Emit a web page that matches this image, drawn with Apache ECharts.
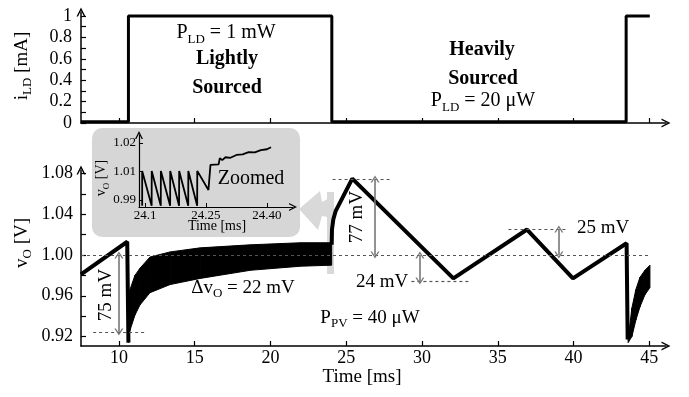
<!DOCTYPE html>
<html>
<head>
<meta charset="utf-8">
<script src="https://cdn.jsdelivr.net/npm/echarts@6/dist/echarts.min.js"></script>
<style>
html, body { margin: 0; padding: 0; background: #fff; }
#chart { width: 689px; height: 397px; }
</style>
</head>
<body>
<div id="chart"></div>
<script>
const FONT = 'Liberation Serif';

// top panel: load current i_LD [mA]
const iTime = [7.5, 10.63, 10.63, 24.05, 24.05, 43.47, 43.47, 45.03];
const iLoad = [0.012, 0.012, 1.0, 1.0, 0.012, 0.012, 1.0, 1.0];
const iTickVals = [0, 0.1, 0.2, 0.3, 0.4, 0.5, 0.6, 0.7, 0.8, 0.9, 1.0];
const iLabelVals = [0, 0.2, 0.4, 0.6, 0.8, 1.0];
const iLabels = ['0', '0.2', '0.4', '0.6', '0.8', '1'];

// shared time axis [ms]
const timeTicks = [10, 15, 20, 25, 30, 35, 40, 45];

// bottom panel: output voltage v_O [V]
const vTimeA = [7.5, 10.55, 10.63];
const vOutA = [0.981, 1.013, 0.914];
const vTimeB = [24.04, 24.06, 24.15, 24.3, 25.4, 32.07, 36.93, 39.96, 43.5, 43.57];
const vOutB = [1.01, 1.025, 1.035, 1.043, 1.075, 0.977, 1.025, 0.977, 1.0115, 0.917];

// ripple envelope (low / high edge)
const band1T = [10.63, 10.73, 11.06, 11.39, 12.05, 13.38, 15.36, 18.68, 21.99, 24.04];
const band1Lo = [0.914, 0.926, 0.941, 0.951, 0.963, 0.971, 0.977, 0.985, 0.989, 0.990];
const band1Hi = [0.916, 0.966, 0.980, 0.987, 0.998, 1.003, 1.007, 1.010, 1.012, 1.012];
const band2T = [43.6, 43.85, 44.11, 44.38, 44.71, 45.04];
const band2Lo = [0.914, 0.920, 0.936, 0.949, 0.961, 0.968];
const band2Hi = [0.917, 0.948, 0.966, 0.978, 0.985, 0.990];

const vTickVals = [0.92, 0.94, 0.96, 0.98, 1.00, 1.02, 1.04, 1.06, 1.08];
const vLabelVals = [0.92, 0.96, 1.00, 1.04, 1.08];
const vLabels = ['0.92', '0.96', '1.00', '1.04', '1.08'];

// dashed reference levels: [t start, t end, v]
const refLevels = [
    [7.5, 45.05, 1.0],
    [8.3, 11.7, 0.9245],
    [24.1, 27.9, 1.0746],
    [35.7, 39.6, 1.0255],
    [29.3, 33.2, 0.9745],
];
// measured swings: [t, v from, v to]
const swings = [
    [10.0, 1.0, 0.9245],
    [26.9, 1.0746, 1.0],
    [39.03, 1.0255, 1.0],
    [29.86, 1.0, 0.9745],
];

// zoomed inset around 24.25 ms
const insetT = [24.093, 24.093, 24.1163, 24.1165, 24.1388, 24.139, 24.1618, 24.162, 24.1838, 24.184,
    24.2063, 24.2065, 24.2283, 24.2285, 24.256, 24.259, 24.261, 24.281, 24.284, 24.29, 24.298,
    24.31, 24.325, 24.34, 24.355, 24.37, 24.385, 24.40, 24.41];
const insetV = [0.998, 1.0102, 0.998, 1.0102, 0.998, 1.0102, 0.998, 1.0102, 0.998, 1.0102,
    0.998, 1.0102, 0.998, 1.0102, 1.0035, 1.0035, 1.0123, 1.0125, 1.0147, 1.0140, 1.0150,
    1.0148, 1.0158, 1.0160, 1.0168, 1.0167, 1.0175, 1.0178, 1.0185];
const insetXVals = [24.1, 24.25, 24.4];
const insetXLabels = ['24.1', '24.25', '24.40'];
const insetYVals = [1.00, 1.01, 1.02];
const insetYLabels = ['0.99', '1.01', '1.02'];

const chevron = 'path://M0,10L5,0L10,10L8.3,10L5,3.3L1.7,10Z';

const pick = (vals, labels) => v => {
    const i = vals.findIndex(x => Math.abs(x - v) < 1e-9);
    return i < 0 ? '' : labels[i];
};
const zip = (a, b) => a.map((x, i) => [x, b[i]]);

function axis(opts) {
    return Object.assign({
        type: 'value',
        axisLine: {
            show: true, onZero: false,
            lineStyle: { color: '#000', width: 1.5 },
            symbol: ['none', chevron], symbolSize: [9, 9],
        },
        splitLine: { show: false },
    }, opts);
}

function bandSeries(T, Lo, Hi) {
    return {
        type: 'custom', xAxisIndex: 1, yAxisIndex: 1, z: 3,
        data: T.map((t, i) => [t, Lo[i], Hi[i]]),
        encode: { x: 0, y: [1, 2] },
        renderItem: (params, api) => {
            const i = params.dataIndex;
            if (i >= T.length - 1) return null;
            const pts = [
                api.coord([T[i], Lo[i]]), api.coord([T[i + 1], Lo[i + 1]]),
                api.coord([T[i + 1], Hi[i + 1]]), api.coord([T[i], Hi[i]]),
            ];
            return { type: 'polygon', shape: { points: pts }, style: { fill: '#000', stroke: '#000', lineWidth: 1 } };
        },
    };
}

function rich(size) {
    return {
        n: { fontFamily: FONT, fontSize: size, lineHeight: size + 6, verticalAlign: 'middle', fill: '#000' },
        s: { fontFamily: FONT, fontSize: Math.round(size * 0.66), verticalAlign: 'bottom', fill: '#000' },
        b: { fontFamily: FONT, fontSize: size, fontWeight: 'bold', fill: '#000' },
    };
}
function txt(x, y, text, size, extra) {
    return Object.assign({
        type: 'text', x: x, y: y, z: 50,
        style: { text: text, rich: rich(size), align: 'center', verticalAlign: 'middle', fill: '#000' },
    }, extra || {});
}

const myChart = echarts.init(document.getElementById('chart'), null, { renderer: 'canvas' });

const lblStyle = { fontFamily: FONT, fontSize: 18, color: '#000' };
const tickStyle = { color: '#000', width: 1.2 };

myChart.setOption({
    animation: false,
    grid: [
        { left: 81, right: 23, top: 12, height: 111 },
        { left: 81, right: 23, top: 170, height: 176 },
        { left: 139, top: 135, width: 154, height: 72 },
    ],
    xAxis: [
        axis({
            gridIndex: 0, min: 7.5, max: 46.1,
            axisTick: { inside: true, length: 5, customValues: timeTicks, lineStyle: tickStyle },
            axisLabel: { show: false },
        }),
        axis({
            gridIndex: 1, min: 7.5, max: 46.1,
            axisTick: { inside: true, length: 5, customValues: timeTicks, lineStyle: tickStyle },
            axisLabel: Object.assign({ customValues: timeTicks, margin: 3 }, lblStyle),
        }),
        axis({
            gridIndex: 2, min: 24.0852, max: 24.464,
            axisLine: { show: true, onZero: false, lineStyle: { color: '#000', width: 1.2 }, symbol: ['none', chevron], symbolSize: [8, 8] },
            axisTick: { inside: true, length: 4, customValues: insetXVals, lineStyle: { color: '#000', width: 1 } },
            axisLabel: { customValues: insetXVals, formatter: pick(insetXVals, insetXLabels), margin: 2, fontFamily: FONT, fontSize: 13, color: '#000' },
        }),
    ],
    yAxis: [
        axis({
            gridIndex: 0, min: 0, max: 1.0376,
            axisTick: { inside: true, length: 5, customValues: iTickVals, lineStyle: tickStyle },
            axisLabel: Object.assign({ customValues: iLabelVals, formatter: pick(iLabelVals, iLabels), margin: 9 }, lblStyle),
        }),
        axis({
            gridIndex: 1, min: 0.9107, max: 1.0834,
            axisTick: { inside: true, length: 5, customValues: vTickVals, lineStyle: tickStyle },
            axisLabel: Object.assign({ customValues: vLabelVals, formatter: pick(vLabelVals, vLabels), margin: 8 }, lblStyle),
        }),
        axis({
            gridIndex: 2, min: 0.99754, max: 1.0228,
            axisLine: { show: true, onZero: false, lineStyle: { color: '#000', width: 1.2 }, symbol: ['none', chevron], symbolSize: [8, 8] },
            axisTick: { inside: true, length: 4, customValues: insetYVals, lineStyle: { color: '#000', width: 1 } },
            axisLabel: { customValues: insetYVals, formatter: pick(insetYVals, insetYLabels), margin: 3, fontFamily: FONT, fontSize: 13, color: '#000' },
        }),
    ],
    series: [
        {
            type: 'line', xAxisIndex: 0, yAxisIndex: 0, data: zip(iTime, iLoad),
            symbol: 'none', lineStyle: { color: '#000', width: 3 },
        },
        {
            type: 'line', xAxisIndex: 1, yAxisIndex: 1, data: zip(vTimeA, vOutA),
            symbol: 'none', lineStyle: { color: '#000', width: 4 }, z: 3,
            markLine: {
                silent: true, symbol: 'none',
                label: { show: false },
                lineStyle: { color: '#555', type: [3, 3], width: 1.2 },
                data: refLevels.map(r => [{ coord: [r[0], r[2]] }, { coord: [r[1], r[2]] }]),
            },
        },
        {
            type: 'line', xAxisIndex: 1, yAxisIndex: 1, data: zip(vTimeB, vOutB),
            symbol: 'none', lineStyle: { color: '#000', width: 4 }, z: 3,
            markLine: {
                silent: true, symbol: [chevron, chevron], symbolSize: [9, 7],
                label: { show: false },
                lineStyle: { color: '#777', type: 'solid', width: 1.6 },
                data: swings.map(s => [{ coord: [s[0], s[1]] }, { coord: [s[0], s[2]] }]),
            },
        },
        bandSeries(band1T, band1Lo, band1Hi),
        bandSeries(band2T, band2Lo, band2Hi),
        {
            type: 'line', xAxisIndex: 2, yAxisIndex: 2, data: zip(insetT, insetV),
            symbol: 'none', lineStyle: { color: '#000', width: 1.8 },
        },
    ],
    graphic: [
        // inset panel and pointer
        { type: 'rect', z: -1, shape: { x: 92, y: 128, width: 208, height: 109, r: 10 }, style: { fill: '#d6d6d6' } },
        { type: 'rect', z: -1, shape: { x: 327, y: 192, width: 7, height: 82 }, style: { fill: '#d9d9d9' } },
        { type: 'polygon', z: -1, shape: { points: [[299, 209], [320, 191], [322, 202], [333, 196], [333, 218], [322, 216], [318, 230]] }, style: { fill: '#d9d9d9' } },

        // axis titles
        txt(22, 66, '{n|i}{s|LD}{n| [mA]}', 19, { rotation: Math.PI / 2 }),
        txt(22, 243, '{n|v}{s|O}{n| [V]}', 19, { rotation: Math.PI / 2 }),
        txt(362, 377, '{n|Time [ms]}', 19),
        txt(101, 178, '{n|v}{s|O}{n| [V]}', 14, { rotation: Math.PI / 2 }),
        txt(217, 226, '{n|Time [ms]}', 14),

        // annotations
        txt(226, 33, '{n|P}{s|LD}{n| = 1 mW}', 20),
        txt(227, 59, '{b|Lightly}', 20),
        txt(227, 88, '{b|Sourced}', 20),
        txt(482, 50, '{b|Heavily}', 20),
        txt(483, 79, '{b|Sourced}', 20),
        txt(483, 101, '{n|P}{s|LD}{n| = 20 μW}', 20),
        txt(251, 179, '{n|Zoomed}', 20),
        txt(106, 295, '{n|75 mV}', 19, { rotation: Math.PI / 2 }),
        txt(357, 217, '{n|77 mV}', 19, { rotation: Math.PI / 2 }),
        txt(603, 228, '{n|25 mV}', 19),
        txt(382, 282, '{n|24 mV}', 19),
        txt(243, 288, '{n|Δv}{s|O}{n| = 22 mV}', 19),
        txt(370, 318, '{n|P}{s|PV}{n| = 40 μW}', 19),
    ],
});
</script>
</body>
</html>
